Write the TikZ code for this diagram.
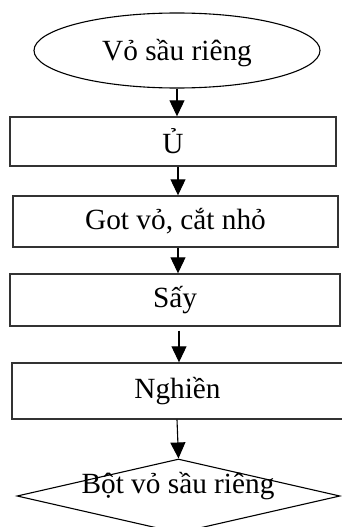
\documentclass[tikz,border=0pt]{standalone}
\usepackage{fontspec}
\setmainfont{Liberation Serif}
\usetikzlibrary{shapes.geometric,arrows.meta}
\begin{document}
\begin{tikzpicture}[x=1pt,y=-1pt,
  every node/.style={font=\fontsize{29.3}{31}\selectfont, inner sep=0pt},
  stepbox/.style={draw=black!80, line width=1.4pt, rectangle},
  startshape/.style={draw, line width=1.1pt, ellipse},
  endshape/.style={draw, line width=1.1pt, diamond, aspect=4.37},
  arr/.style={line width=1.1pt, -{Triangle[width=15pt,length=16pt]}}]
\useasboundingbox (0,0) rectangle (341,527);
\node[startshape, minimum width=286, minimum height=75] (src) at (177,50.5) {};
\node (srclabel) at (177,53) {Vỏ sầu riêng};
\node[stepbox, minimum width=326, minimum height=49] (u) at (173,141.5) {Ủ};
\node[stepbox, minimum width=325, minimum height=51] (cut) at (175.5,221.5) {Got vỏ, cắt nhỏ};
\node[stepbox, minimum width=330, minimum height=52] (dry) at (175,300) {Sấy};
\node[stepbox, minimum width=331, minimum height=56] (grind) at (177.5,391) {Nghiền};
\node[endshape, minimum width=323, minimum height=74] (powder) at (178.5,496) {};
\node (powderlabel) at (178,486) {Bột vỏ sầu riêng};
\coordinate (a1) at (177,0);
\coordinate (a2) at (178,0);
\coordinate (a4) at (179,0);
\draw[arr] (a1 |- src.south) -- (a1 |- u.north);
\draw[arr] (a2 |- u.south) -- (a2 |- cut.north);
\draw[arr] (a2 |- cut.south) -- (a2 |- dry.north);
\draw[arr, shorten <=4pt] (a4 |- dry.south) -- (a4 |- grind.north);
\draw[arr] (a1 |- grind.south) -- (powder.north);
\end{tikzpicture}
\end{document}
